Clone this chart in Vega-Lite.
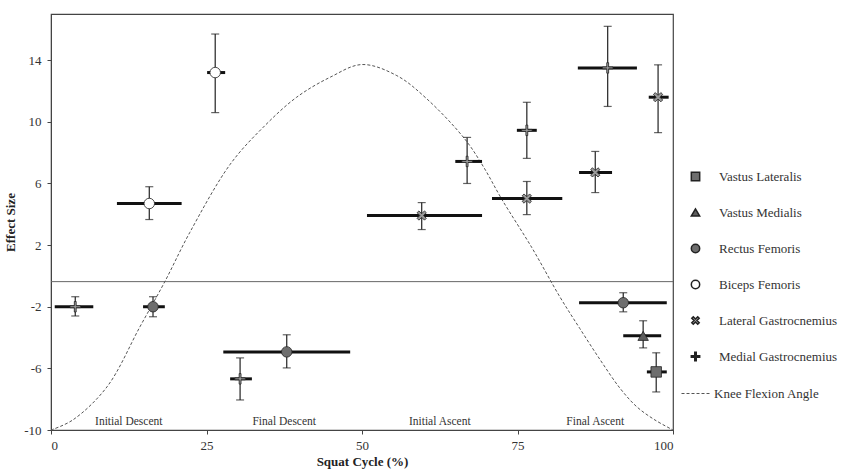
{
  "$schema": "https://vega.github.io/schema/vega-lite/v6.json",
  "width": 622,
  "height": 416,
  "autosize": {"type": "none"},
  "padding": {"left": 51, "top": 14, "right": 174, "bottom": 43},
  "background": "white",
  "config": {
    "font": "Liberation Serif",
    "view": {"stroke": "#444", "strokeWidth": 1.2},
    "axis": {
      "grid": false,
      "domainColor": "#444",
      "tickColor": "#444",
      "tickSize": 4,
      "labelColor": "#333",
      "labelFontSize": 13,
      "labelFont": "Liberation Serif",
      "titleFont": "Liberation Serif",
      "titleFontSize": 13,
      "titleFontWeight": "bold",
      "titleColor": "#222"
    },
    "legend": {
      "labelFont": "Liberation Serif",
      "labelFontSize": 13,
      "labelColor": "#333"
    }
  },
  "datasets": {
    "points": [
      {"muscle": "Medial Gastrocnemius", "x": 3.9, "xlo": 0.6, "xhi": 6.8, "y": -2.0, "ylo": -2.6, "yhi": -1.35},
      {"muscle": "Rectus Femoris", "x": 16.4, "xlo": 14.8, "xhi": 18.3, "y": -2.0, "ylo": -2.65, "yhi": -1.35},
      {"muscle": "Biceps Femoris", "x": 15.8, "xlo": 10.6, "xhi": 21.0, "y": 4.7, "ylo": 3.66, "yhi": 5.79},
      {"muscle": "Biceps Femoris", "x": 26.4, "xlo": 25.1, "xhi": 28.0, "y": 13.2, "ylo": 10.6, "yhi": 15.7},
      {"muscle": "Rectus Femoris", "x": 37.9, "xlo": 27.7, "xhi": 48.1, "y": -4.93, "ylo": -5.97, "yhi": -3.82},
      {"muscle": "Medial Gastrocnemius", "x": 30.4, "xlo": 28.8, "xhi": 32.3, "y": -6.68, "ylo": -8.05, "yhi": -5.32},
      {"muscle": "Lateral Gastrocnemius", "x": 59.6, "xlo": 50.8, "xhi": 69.3, "y": 3.92, "ylo": 3.01, "yhi": 4.76},
      {"muscle": "Medial Gastrocnemius", "x": 66.9, "xlo": 65.0, "xhi": 69.3, "y": 7.43, "ylo": 6.0, "yhi": 8.99},
      {"muscle": "Medial Gastrocnemius", "x": 76.5, "xlo": 74.9, "xhi": 78.1, "y": 9.45, "ylo": 7.63, "yhi": 11.27},
      {"muscle": "Lateral Gastrocnemius", "x": 76.5, "xlo": 70.9, "xhi": 82.2, "y": 5.02, "ylo": 3.98, "yhi": 6.13},
      {"muscle": "Medial Gastrocnemius", "x": 89.5, "xlo": 84.7, "xhi": 94.2, "y": 13.5, "ylo": 11.0, "yhi": 16.2},
      {"muscle": "Lateral Gastrocnemius", "x": 97.6, "xlo": 96.1, "xhi": 99.3, "y": 11.6, "ylo": 9.3, "yhi": 13.7},
      {"muscle": "Lateral Gastrocnemius", "x": 87.5, "xlo": 84.9, "xhi": 90.2, "y": 6.72, "ylo": 5.41, "yhi": 8.08},
      {"muscle": "Rectus Femoris", "x": 92.0, "xlo": 84.9, "xhi": 99.0, "y": -1.74, "ylo": -2.33, "yhi": -1.09},
      {"muscle": "Vastus Medialis", "x": 95.2, "xlo": 92.0, "xhi": 98.1, "y": -3.89, "ylo": -4.67, "yhi": -2.91},
      {"muscle": "Vastus Lateralis", "x": 97.3, "xlo": 95.8, "xhi": 99.0, "y": -6.23, "ylo": -7.53, "yhi": -4.99}
    ],
    "curve": [
      {"series": "Knee Flexion Angle", "x": 0, "y": -10},
      {"series": "Knee Flexion Angle", "x": 3.5, "y": -9.35},
      {"series": "Knee Flexion Angle", "x": 9.0, "y": -7.2},
      {"series": "Knee Flexion Angle", "x": 14.3, "y": -3.3},
      {"series": "Knee Flexion Angle", "x": 18.3, "y": -0.37},
      {"series": "Knee Flexion Angle", "x": 22.3, "y": 2.81},
      {"series": "Knee Flexion Angle", "x": 28.8, "y": 7.24},
      {"series": "Knee Flexion Angle", "x": 34.1, "y": 9.64},
      {"series": "Knee Flexion Angle", "x": 39.5, "y": 11.6},
      {"series": "Knee Flexion Angle", "x": 44.9, "y": 12.9},
      {"series": "Knee Flexion Angle", "x": 50.0, "y": 13.72},
      {"series": "Knee Flexion Angle", "x": 55.6, "y": 13.0},
      {"series": "Knee Flexion Angle", "x": 60.4, "y": 11.5},
      {"series": "Knee Flexion Angle", "x": 66.5, "y": 8.9},
      {"series": "Knee Flexion Angle", "x": 69.5, "y": 7.1},
      {"series": "Knee Flexion Angle", "x": 72.5, "y": 4.96},
      {"series": "Knee Flexion Angle", "x": 77.3, "y": 1.84},
      {"series": "Knee Flexion Angle", "x": 81.8, "y": -1.35},
      {"series": "Knee Flexion Angle", "x": 85.0, "y": -3.4},
      {"series": "Knee Flexion Angle", "x": 88.3, "y": -5.45},
      {"series": "Knee Flexion Angle", "x": 91.5, "y": -7.3},
      {"series": "Knee Flexion Angle", "x": 94.2, "y": -8.5},
      {"series": "Knee Flexion Angle", "x": 97.1, "y": -9.35},
      {"series": "Knee Flexion Angle", "x": 100, "y": -10}
    ],
    "phases": [
      {"phase": "Initial Descent", "x": 12.5, "y": -9.45},
      {"phase": "Final Descent", "x": 37.5, "y": -9.45},
      {"phase": "Initial Ascent", "x": 62.5, "y": -9.45},
      {"phase": "Final Ascent", "x": 87.5, "y": -9.45}
    ],
    "baseline": [{"y": -0.37}]
  },
  "layer": [
    {
      "data": {"name": "baseline"},
      "mark": {"type": "rule", "color": "#666", "strokeWidth": 1},
      "encoding": {
        "y": {"field": "y", "type": "quantitative", "title": "Effect Size"}
      }
    },
    {
      "data": {"name": "curve"},
      "mark": {"type": "line", "color": "#555", "strokeWidth": 1, "interpolate": "catmull-rom"},
      "encoding": {
        "x": {"field": "x", "type": "quantitative", "title": "Squat Cycle (%)",
          "scale": {"domain": [0, 100], "nice": false},
          "axis": {"values": [0, 25, 50, 75, 100], "labelPadding": 5, "titlePadding": 3}},
        "y": {"field": "y", "type": "quantitative", "title": "Effect Size",
          "scale": {"domain": [-10, 17], "nice": false, "zero": false},
          "axis": {"values": [-10, -6, -2, 2, 6, 10, 14], "labelExpr": "toString(datum.value)", "labelPadding": 6, "titlePadding": 6}},
        "strokeDash": {"field": "series", "type": "nominal",
          "scale": {"range": [[3, 2]]},
          "legend": {"title": null, "orient": "none", "legendX": 630, "legendY": 364,
            "symbolType": "stroke", "symbolSize": 900, "symbolStrokeColor": "#555", "symbolStrokeWidth": 1, "labelOffset": 2}}
      }
    },
    {
      "data": {"name": "phases"},
      "mark": {"type": "text", "fontSize": 11.5, "color": "#333", "baseline": "middle"},
      "encoding": {
        "x": {"field": "x", "type": "quantitative", "title": "Squat Cycle (%)"},
        "y": {"field": "y", "type": "quantitative", "title": "Effect Size"},
        "text": {"field": "phase"}
      }
    },
    {
      "data": {"name": "points"},
      "layer": [
        {
          "mark": {"type": "rule", "color": "#111", "strokeWidth": 3},
          "encoding": {
            "x": {"field": "xlo", "type": "quantitative", "title": "Squat Cycle (%)"},
            "x2": {"field": "xhi"},
            "y": {"field": "y", "type": "quantitative", "title": "Effect Size"}
          }
        },
        {
          "mark": {"type": "rule", "color": "#222", "strokeWidth": 1.2},
          "encoding": {
            "x": {"field": "x", "type": "quantitative", "title": "Squat Cycle (%)"},
            "y": {"field": "ylo", "type": "quantitative", "title": "Effect Size"},
            "y2": {"field": "yhi"}
          }
        },
        {
          "mark": {"type": "tick", "orient": "horizontal", "color": "#222", "size": 8, "thickness": 1.2},
          "encoding": {
            "x": {"field": "x", "type": "quantitative", "title": "Squat Cycle (%)"},
            "y": {"field": "ylo", "type": "quantitative", "title": "Effect Size"}
          }
        },
        {
          "mark": {"type": "tick", "orient": "horizontal", "color": "#222", "size": 8, "thickness": 1.2},
          "encoding": {
            "x": {"field": "x", "type": "quantitative", "title": "Squat Cycle (%)"},
            "y": {"field": "yhi", "type": "quantitative", "title": "Effect Size"}
          }
        },
        {
          "mark": {"type": "point", "filled": true, "size": 110, "stroke": "#222", "strokeWidth": 0.8, "opacity": 1},
          "encoding": {
            "x": {"field": "x", "type": "quantitative", "title": "Squat Cycle (%)"},
            "y": {"field": "y", "type": "quantitative", "title": "Effect Size"},
            "shape": {"field": "muscle", "type": "nominal",
              "scale": {
                "domain": ["Vastus Lateralis", "Vastus Medialis", "Rectus Femoris", "Biceps Femoris", "Lateral Gastrocnemius", "Medial Gastrocnemius"],
                "range": ["square", "triangle-up", "circle", "circle",
                  "M-0.53,-0.884L0,-0.354L0.53,-0.884L0.884,-0.53L0.354,0L0.884,0.53L0.53,0.884L0,0.354L-0.53,0.884L-0.884,0.53L-0.354,0L-0.884,-0.53Z",
                  "M-1,-0.18H-0.18V-1H0.18V-0.18H1V0.18H0.18V1H-0.18V0.18H-1Z"]
              },
              "legend": {"title": null, "orient": "none", "legendX": 638, "legendY": 156, "rowPadding": 21, "labelOffset": 17, "symbolSize": 70,
                "encode": {"symbols": {"update": {"stroke": {"value": "#444"}, "strokeWidth": {"value": 0.5}}}}}
            },
            "fill": {"field": "muscle", "type": "nominal",
              "scale": {
                "domain": ["Vastus Lateralis", "Vastus Medialis", "Rectus Femoris", "Biceps Femoris", "Lateral Gastrocnemius", "Medial Gastrocnemius"],
                "range": ["#6e6e6e", "#5e5e5e", "#6e6e6e", "#ffffff", "#9a9a9a", "#9a9a9a"]
              },
              "legend": {"title": null, "orient": "none", "legendX": 638, "legendY": 156, "rowPadding": 21, "labelOffset": 17, "symbolSize": 70,
                "encode": {"symbols": {"update": {"stroke": {"value": "#444"}, "strokeWidth": {"value": 0.5}}}}}
            }
          }
        }
      ]
    }
  ]
}
